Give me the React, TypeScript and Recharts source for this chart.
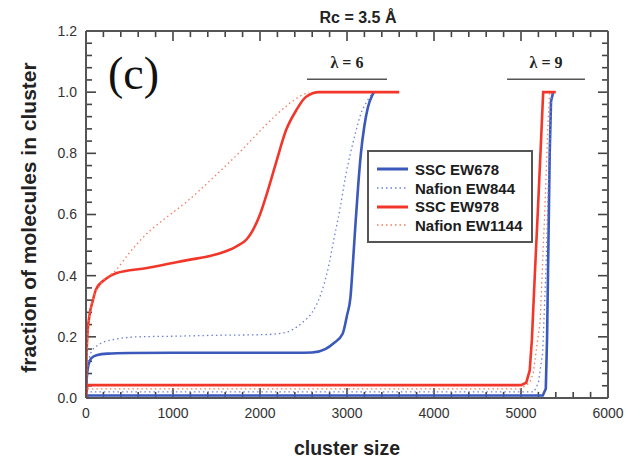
import React from "react";
import { LineChart, Line, XAxis, YAxis, ReferenceLine, Legend } from "recharts";

type Pt = [number, number];

// cluster size vs fraction of molecules, lambda = 6 runs
const ssc678Lam6: Pt[] = [
  [0, 0], [10, 0.07], [30, 0.11], [60, 0.13], [120, 0.14], [250, 0.145], [500, 0.147],
  [1000, 0.148], [1500, 0.148], [2000, 0.148], [2400, 0.148], [2600, 0.149], [2750, 0.16],
  [2850, 0.18], [2950, 0.21], [3000, 0.27], [3040, 0.33], [3070, 0.45], [3100, 0.58],
  [3130, 0.7], [3160, 0.8], [3200, 0.89], [3240, 0.95], [3290, 0.99], [3310, 1.0],
];
const nafion844Lam6: Pt[] = [
  [0, 0], [20, 0.1], [60, 0.15], [150, 0.175], [300, 0.19], [600, 0.2], [1000, 0.202],
  [1500, 0.205], [2000, 0.207], [2200, 0.21], [2350, 0.22], [2500, 0.25], [2600, 0.28],
  [2700, 0.34], [2780, 0.42], [2850, 0.52], [2920, 0.62], [2980, 0.72], [3040, 0.8],
  [3100, 0.87], [3160, 0.93], [3230, 0.97], [3300, 1.0],
];
const ssc978Lam6: Pt[] = [
  [0, 0], [5, 0.12], [15, 0.2], [40, 0.27], [80, 0.32], [115, 0.355], [230, 0.39],
  [345, 0.408], [700, 0.425], [1150, 0.45], [1500, 0.47], [1725, 0.495], [1850, 0.52],
  [1920, 0.55], [2000, 0.6], [2070, 0.66], [2185, 0.77], [2300, 0.876], [2415, 0.94],
  [2530, 0.985], [2680, 1.0], [3600, 1.0],
];
const nafion1144Lam6: Pt[] = [
  [0, 0], [20, 0.2], [60, 0.3], [160, 0.37], [345, 0.418], [500, 0.475], [690, 0.535],
  [900, 0.585], [1150, 0.64], [1460, 0.72], [1805, 0.815], [1955, 0.86], [2185, 0.925],
  [2450, 0.985], [2560, 1.0],
];

// lambda = 9 runs
const ssc678Lam9: Pt[] = [
  [0, 0], [20, 0.008], [5250, 0.008], [5285, 0.03], [5300, 0.2], [5315, 0.5],
  [5330, 0.8], [5345, 0.97], [5370, 1.0],
];
const nafion844Lam9: Pt[] = [
  [0, 0], [20, 0.02], [5150, 0.02], [5200, 0.05], [5250, 0.15], [5290, 0.45],
  [5320, 0.75], [5345, 0.95], [5360, 1.0],
];
const ssc978Lam9: Pt[] = [
  [0, 0], [15, 0.042], [5000, 0.042], [5060, 0.05], [5100, 0.09], [5125, 0.19],
  [5160, 0.41], [5195, 0.62], [5230, 0.84], [5255, 1.0], [5400, 1.0],
];
const nafion1144Lam9: Pt[] = [
  [0, 0], [20, 0.03], [5000, 0.03], [5100, 0.05], [5140, 0.08], [5220, 0.25],
  [5275, 0.62], [5310, 0.9], [5330, 1.0],
];

// every 200 on x, every 0.04 on y; labels only on the majors
const xTicks = Array.from({ length: 31 }, (_, i) => i * 200);
const yTicks = Array.from({ length: 31 }, (_, i) => +(i * 0.04).toFixed(2));

const legendNames = ["SSC EW678", "Nafion EW844", "SSC EW978", "Nafion EW1144"];

const X_MAX = 6000;
const Y_MAX = 1.2;

const BLUE = "#3b58bb";
const BLUE_DOT = "#6e80d6";
const RED = "#f2372a";
const RED_DOT = "#f47c5e";
const FRAME = "#555";
const TICK_COLOR = "#444";
const SANS = "'Liberation Sans', Arial, sans-serif";

// inward tick mark lengths, in axis units (~6px minor, ~10px major)
const X_MINOR = 69;
const X_MAJOR = 115;
const Y_MINOR = 0.02;
const Y_MAJOR = 0.033;

const isMajorX = (v: number) => v % 1000 === 0;
const isMajorY = (v: number) => Math.abs(v * 5 - Math.round(v * 5)) < 1e-6;

const toPoints = (pts: Pt[]) => pts.map(([x, y]) => ({ x, y }));

const series = [
  { id: "a6", data: ssc678Lam6, color: BLUE, dotted: false, type: "monotone" },
  { id: "b6", data: nafion844Lam6, color: BLUE_DOT, dotted: true, type: "monotone" },
  { id: "c6", data: ssc978Lam6, color: RED, dotted: false, type: "monotone" },
  { id: "d6", data: nafion1144Lam6, color: RED_DOT, dotted: true, type: "monotone" },
  { id: "a9", data: ssc678Lam9, color: BLUE, dotted: false, type: "linear" },
  { id: "b9", data: nafion844Lam9, color: BLUE_DOT, dotted: true, type: "linear" },
  { id: "c9", data: ssc978Lam9, color: RED, dotted: false, type: "linear" },
  { id: "d9", data: nafion1144Lam9, color: RED_DOT, dotted: true, type: "linear" },
] as const;

const legendStyles = [
  { color: BLUE, dotted: false },
  { color: BLUE_DOT, dotted: true },
  { color: RED, dotted: false },
  { color: RED_DOT, dotted: true },
];

function BottomTick(props: any) {
  const { x, y, payload } = props;
  if (!isMajorX(payload.value)) return <g />;
  return (
    <text x={x} y={y} dy="0.71em" textAnchor="middle" fill="#333" fontSize={14} fontFamily={SANS}>
      {payload.value}
    </text>
  );
}

function LeftTick(props: any) {
  const { x, y, payload } = props;
  if (!isMajorY(payload.value)) return <g />;
  return (
    <text x={x} y={y} dy="0.35em" textAnchor="end" fill="#333" fontSize={14} fontFamily={SANS}>
      {payload.value.toFixed(1)}
    </text>
  );
}

// tick marks on all four sides of the frame, pointing inward
const tickMarks = [
  ...xTicks.flatMap((v) => {
    const len = isMajorX(v) ? Y_MAJOR : Y_MINOR;
    return [
      { key: `b${v}`, a: { x: v, y: 0 }, b: { x: v, y: len } },
      { key: `t${v}`, a: { x: v, y: Y_MAX }, b: { x: v, y: Y_MAX - len } },
    ];
  }),
  ...yTicks.flatMap((v) => {
    const len = isMajorY(v) ? X_MAJOR : X_MINOR;
    return [
      { key: `l${v}`, a: { x: 0, y: v }, b: { x: len, y: v } },
      { key: `r${v}`, a: { x: X_MAX, y: v }, b: { x: X_MAX - len, y: v } },
    ];
  }),
];

function LegendBox() {
  return (
    <div
      style={{
        width: 166, height: 93, boxSizing: "border-box", border: `2px solid ${FRAME}`,
        background: "#fff", paddingTop: 8, paddingLeft: 8,
        fontFamily: SANS, fontWeight: 700, fontSize: 15, color: "#1c1c1c",
      }}
    >
      {legendNames.map((name, i) => (
        <div key={name} style={{ display: "flex", alignItems: "center", height: 18.7 }}>
          <svg width={31} height={6} style={{ marginRight: 7 }}>
            <line
              x1={0} y1={3} x2={31} y2={3}
              stroke={legendStyles[i].color}
              strokeWidth={legendStyles[i].dotted ? 1.3 : 3}
              strokeDasharray={legendStyles[i].dotted ? "1.5 3" : undefined}
            />
          </svg>
          <span>{name}</span>
        </div>
      ))}
    </div>
  );
}

const frameLine = { stroke: FRAME, strokeWidth: 2 };

export default function App() {
  return (
    <div style={{ position: "absolute", left: 0, top: 0, width: 627, height: 461, background: "#fff" }}>
      <LineChart width={627} height={461} margin={{ top: 30, right: 18, bottom: 6, left: 25 }}>
        <XAxis xAxisId="x" type="number" dataKey="x" domain={[0, X_MAX]} allowDataOverflow
          ticks={xTicks} interval={0} height={57} tickSize={0} tickMargin={10}
          tick={BottomTick} axisLine={frameLine} tickLine={false}
          label={{ value: "cluster size", position: "insideBottom", offset: 0, fill: "#222", fontSize: 19.5, fontWeight: 700, fontFamily: SANS }} />
        <XAxis xAxisId="t" orientation="top" type="number" domain={[0, X_MAX]} allowDataOverflow
          height={1} tick={false} axisLine={frameLine} tickLine={false} />

        <YAxis yAxisId="y" type="number" domain={[0, Y_MAX]} allowDataOverflow
          ticks={yTicks} interval={0} width={61} tickSize={0} tickMargin={9}
          tick={LeftTick} axisLine={frameLine} tickLine={false}
          label={{
            value: "fraction of molecules in cluster", angle: -90, position: "insideLeft",
            offset: 4, dy: 3, fill: "#222", fontSize: 21, fontWeight: 700, fontFamily: SANS,
            style: { textAnchor: "middle" },
          }} />
        <YAxis yAxisId="r" orientation="right" type="number" domain={[0, Y_MAX]} allowDataOverflow
          width={1} tick={false} axisLine={frameLine} tickLine={false} />

        {tickMarks.map((t) => (
          <ReferenceLine key={t.key} xAxisId="x" yAxisId="y" segment={[t.a, t.b]}
            stroke={TICK_COLOR} strokeWidth={1.6} />
        ))}

        <ReferenceLine xAxisId="x" yAxisId="y"
          segment={[{ x: 2540, y: 1.042 }, { x: 3460, y: 1.042 }]}
          stroke={FRAME} strokeWidth={1.5}
          label={{ value: "λ = 6", position: "top", offset: 11, fill: "#222", fontSize: 16, fontWeight: 700, fontFamily: "'Liberation Serif', serif" }} />
        <ReferenceLine xAxisId="x" yAxisId="y"
          segment={[{ x: 4840, y: 1.042 }, { x: 5735, y: 1.042 }]}
          stroke={FRAME} strokeWidth={1.5}
          label={{ value: "λ = 9", position: "top", offset: 11, fill: "#222", fontSize: 16, fontWeight: 700, fontFamily: "'Liberation Serif', serif" }} />

        {series.map((s) => (
          <Line
            key={s.id}
            xAxisId="x"
            yAxisId="y"
            data={toPoints(s.data as Pt[])}
            dataKey="y"
            type={s.type}
            stroke={s.color}
            strokeWidth={s.dotted ? 1.3 : 2.6}
            strokeDasharray={s.dotted ? "1.5 3" : undefined}
            dot={false}
            isAnimationActive={false}
          />
        ))}

        <Legend
          layout="horizontal" verticalAlign="middle" align="center"
          content={() => <LegendBox />}
          wrapperStyle={{ left: 367, top: 150, width: 166, height: 93 }}
        />
      </LineChart>

      <div style={{
        position: "absolute", left: 290, top: 9, width: 136, textAlign: "center",
        fontFamily: SANS, fontWeight: 700, fontSize: 16, color: "#222",
      }}>
        Rc = 3.5 Å
      </div>
      <div style={{
        position: "absolute", left: 108, top: 51, fontFamily: "'Liberation Serif', 'Times New Roman', serif",
        fontSize: 46, color: "#111", lineHeight: "46px",
      }}>
        (c)
      </div>
    </div>
  );
}
